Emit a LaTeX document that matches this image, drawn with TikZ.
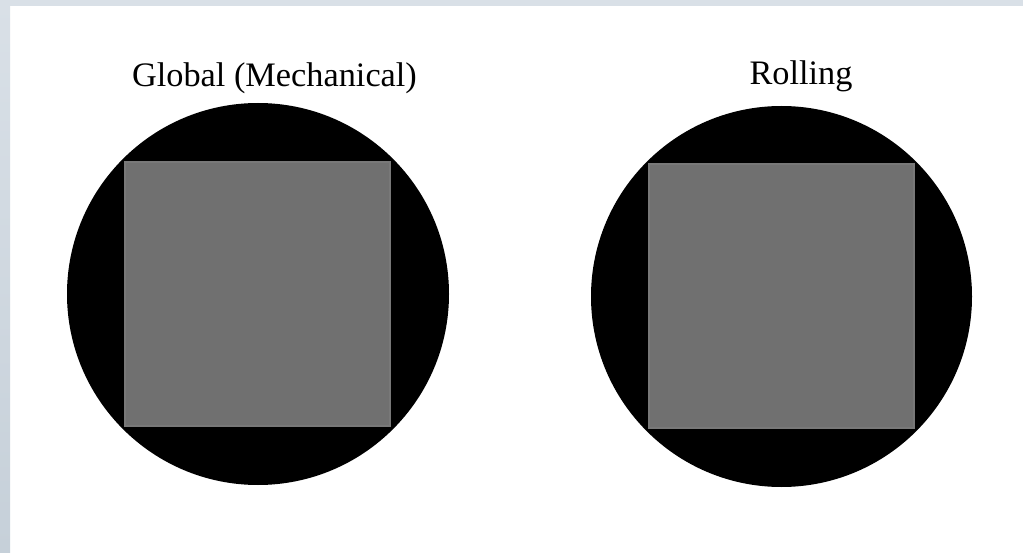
\documentclass[tikz,border=0pt]{standalone}
\usepackage{fontspec}
\setmainfont{Liberation Serif}
\definecolor{framebg}{HTML}{D9E0E7}
\definecolor{framebot}{HTML}{C6D0D9}
\definecolor{sensor}{HTML}{707070}
\definecolor{sensoredge}{HTML}{787878}
\tikzset{
  lens/.style={fill=black, draw=none},
  sensorbox/.style={fill=sensor, draw=sensoredge, line width=1.2pt},
  caption/.style={font=\fontsize{34.3}{40}\selectfont, anchor=base, inner sep=0pt}
}
\begin{document}
\begin{tikzpicture}[x=1pt,y=-1pt]
\useasboundingbox (0,0) rectangle (1023,553);
\fill[white] (0,0) rectangle (1023,553);
\fill[framebg] (0,0) rectangle (1023,6);
\shade[top color=framebg, bottom color=framebot] (0,0) rectangle (10,553);
% left: global
\fill[lens] (258,294) circle[radius=191];
\draw[sensorbox] (125,162) rectangle (390,426);
\node[caption] (tg) at (274.5,87) {Global (Mechanical)};
% right: rolling
\fill[lens] (781.5,296.5) circle[radius=190.5];
\draw[sensorbox] (649,164) rectangle (914,428);
\node[caption] (tr) at (801,85) {Rolling};
\end{tikzpicture}
\end{document}
